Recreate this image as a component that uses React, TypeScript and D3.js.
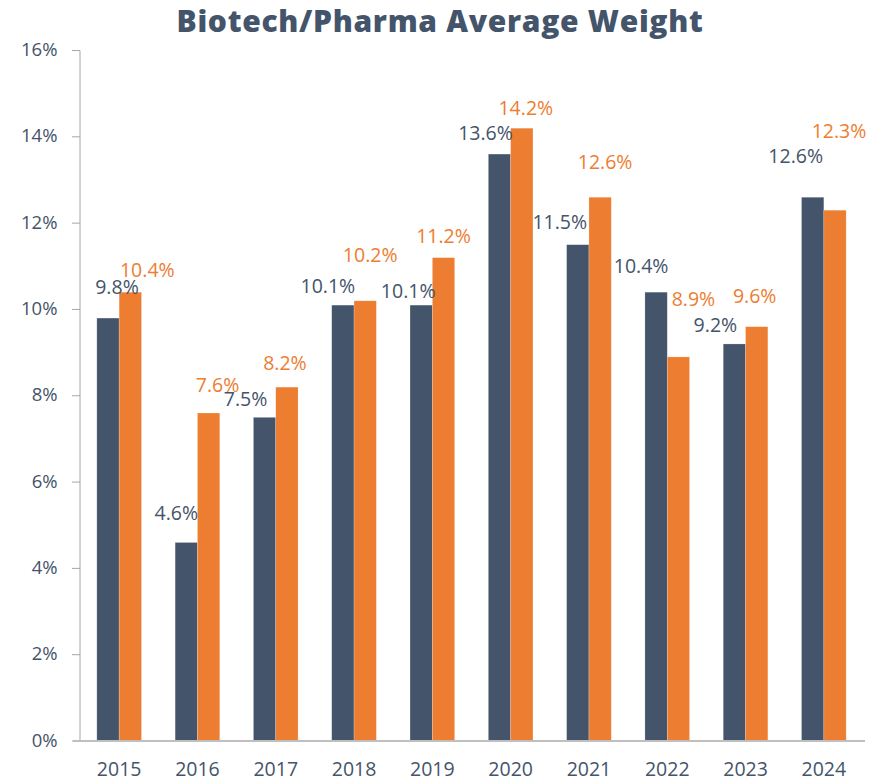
import React from 'react';
import * as d3 from 'd3';

// chart data
const years = ['2015', '2016', '2017', '2018', '2019', '2020', '2021', '2022', '2023', '2024'];
const seriesA = [9.8, 4.6, 7.5, 10.1, 10.1, 13.6, 11.5, 10.4, 9.2, 12.6];
const seriesB = [10.4, 7.6, 8.2, 10.2, 11.2, 14.2, 12.6, 8.9, 9.6, 12.3];
const yTicks = [0, 2, 4, 6, 8, 10, 12, 14, 16];

// hand-placed label nudges (dx, dy from bar top centre), as in the source chart
const nudgeA = [[9, -32], [-10, -30], [-19, -19], [-15, -20], [-13, -15], [-14, -22], [-18, -23], [-15, -27], [-19, -19], [-17, -42]];
const nudgeB = [[17, -23], [9, -29], [-2, -25], [5, -46], [0, -22], [4, -21], [5, -36], [15, -58], [-2, -31], [4, -80]];

const W = 879, H = 781;
const left = 80, right = 863, top = 50.5, bottom = 741;
const dark = '#44546A', orange = '#ED7D31';
const font = '"Open Sans", sans-serif';

const App = (): JSX.Element => {
  const x = d3.scaleBand<string>()
    .domain(years)
    .range([left, right])
    .paddingInner(0.43)
    .paddingOuter(0.215);

  const inner = d3.scaleBand<string>()
    .domain(['a', 'b'])
    .range([0, x.bandwidth()]);

  const y = d3.scaleLinear().domain([0, 16]).range([bottom, top]);

  const bw = inner.bandwidth();

  return (
    <svg width={W} height={H} style={{ position: 'absolute', left: 0, top: 0 }} fontFamily={font}>
      <text x={440} y={32} textAnchor="middle" fontSize={30} fontWeight={800} letterSpacing={0.7} fill={dark}>
        Biotech/Pharma Average Weight
      </text>

      {/* y axis */}
      <line x1={left} x2={left} y1={top} y2={bottom} stroke="#A6A6A6" strokeWidth={1} />
      {yTicks.map(t => (
        <g key={t}>
          <line x1={left - 8} x2={left} y1={y(t)} y2={y(t)} stroke="#A6A6A6" />
          <text x={57.5} y={y(t) - 2} textAnchor="end" dominantBaseline="central" fontSize={18.5} fill={dark}>
            {t}%
          </text>
        </g>
      ))}

      {/* bars */}
      {years.map((yr, i) => {
        const x0 = x(yr) as number;
        return (
          <g key={yr}>
            <rect x={x0 + (inner('a') as number)} y={y(seriesA[i])} width={bw}
              height={bottom - y(seriesA[i])} fill={dark} stroke="#fff" strokeOpacity={0.35} strokeWidth={0.6} />
            <rect x={x0 + (inner('b') as number)} y={y(seriesB[i])} width={bw}
              height={bottom - y(seriesB[i])} fill={orange} stroke="#fff" strokeOpacity={0.35} strokeWidth={0.6} />
          </g>
        );
      })}

      {/* x axis */}
      <line x1={left - 7} x2={right + 2} y1={bottom} y2={bottom} stroke="#BFBFBF" strokeWidth={2} />
      {years.map(yr => (
        <text key={yr} x={(x(yr) as number) + x.bandwidth() / 2} y={776} textAnchor="middle"
          fontSize={19.5} fill={dark}>
          {yr}
        </text>
      ))}

      {/* data labels */}
      {years.map((yr, i) => {
        const x0 = x(yr) as number;
        const ca = x0 + (inner('a') as number) + bw / 2;
        const cb = x0 + (inner('b') as number) + bw / 2;
        return (
          <g key={'l' + yr} fontSize={19.5}>
            <text x={ca + nudgeA[i][0]} y={y(seriesA[i]) + nudgeA[i][1]} textAnchor="middle"
              dominantBaseline="central" fill={dark}>
              {seriesA[i].toFixed(1)}%
            </text>
            <text x={cb + nudgeB[i][0]} y={y(seriesB[i]) + nudgeB[i][1]} textAnchor="middle"
              dominantBaseline="central" fill={orange}>
              {seriesB[i].toFixed(1)}%
            </text>
          </g>
        );
      })}
    </svg>
  );
};

export default App;
